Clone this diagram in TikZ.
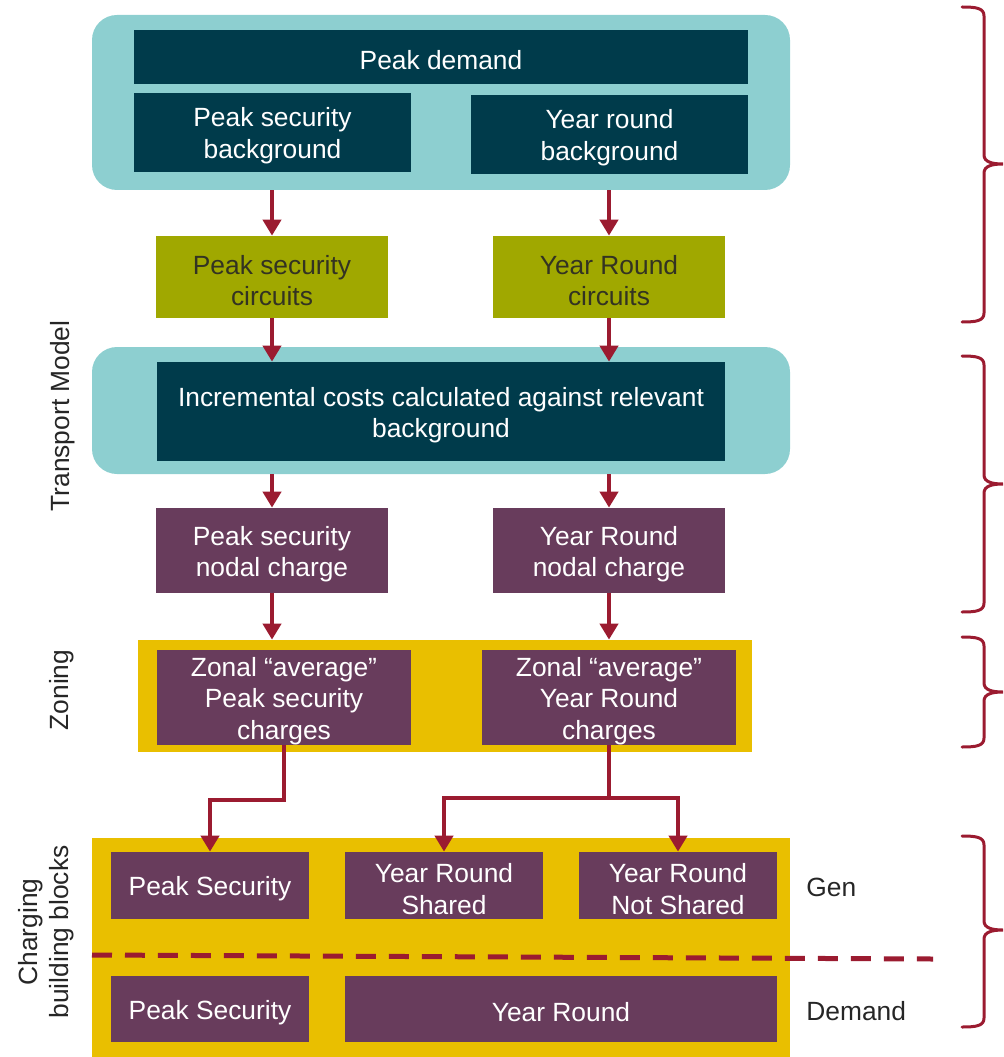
\documentclass[tikz,border=0pt]{standalone}
\usepackage{fontspec}
\setmainfont{Liberation Sans}
\usetikzlibrary{arrows.meta,calc}
\definecolor{lteal}{HTML}{8DCFD0}
\definecolor{dteal}{HTML}{003B4B}
\definecolor{olive}{HTML}{A0A800}
\definecolor{plum}{HTML}{683C5C}
\definecolor{gold}{HTML}{E9BF00}
\definecolor{crim}{HTML}{9B1B30}
\definecolor{otext}{HTML}{333322}
\newcommand\bx[7]{\node[#6, minimum width={(#4-#2)*0.02cm}, minimum height={(#5-#3)*0.02cm}] (#1) at ({(#2+#4)/2},{(#3+#5)/2}) {};
  \node[#6, fill=none, yshift=-0.07cm] (#1t) at (#1.center) {#7};}
\newcommand\sidebrace[3]{\draw[bracestyle] (962,#1) .. controls (976,#1) and (984,#1+1) .. (984,#1+9) -- (984,#3-9) .. controls (984,#3-2) and (992,#3) .. (1003,#3) .. controls (992,#3) and (984,#3+2) .. (984,#3+9) -- (984,#2-9) .. controls (984,#2-1) and (976,#2) .. (962,#2);}
\begin{document}
\begin{tikzpicture}[x=0.02cm,y=-0.02cm,
  every node/.style={font=\fontsize{15}{18}\selectfont, align=center, inner sep=0pt},
  panel/.style={fill=lteal, draw=none, rounded corners=0.5cm},
  ypanel/.style={fill=gold, draw=none},
  dbox/.style={fill=dteal, text=white},
  obox/.style={fill=olive, text=otext},
  pbox/.style={fill=plum, text=white},
  arr/.style={draw=crim, line width=0.08cm, -{Triangle[width=0.36cm,length=0.32cm]}},
  ln/.style={draw=crim, line width=0.08cm},
  bracestyle/.style={draw=crim, line width=0.06cm, line cap=round},
  lbl/.style={text=black!85}
]
\useasboundingbox (0,0) rectangle (1003,1057);
% top panel
\bx{tealA}{92}{15}{790}{190}{panel}{}
\bx{pd}{134}{30}{748}{84}{dbox}{Peak demand}
\bx{psb}{134}{93}{411}{172}{dbox}{Peak security\\background}
\bx{yrb}{471}{95}{748}{174}{dbox}{Year round\\background}
% circuits
\bx{psc}{156}{236}{388}{318}{obox}{Peak security\\circuits}
\bx{yrc}{493}{236}{725}{318}{obox}{Year Round\\circuits}
% second panel
\bx{tealB}{92}{347}{790}{474}{panel}{}
\bx{inc}{157}{362}{725}{461}{dbox}{Incremental costs calculated against relevant\\background}
% nodal
\bx{psn}{156}{508}{388}{593}{pbox}{Peak security\\nodal charge}
\bx{yrn}{493}{508}{725}{593}{pbox}{Year Round\\nodal charge}
% zoning
\bx{zon}{138}{640}{752}{752}{ypanel}{}
\bx{zps}{157}{650}{411}{745}{pbox}{Zonal “average”\\Peak security\\charges}
\bx{zyr}{482}{650}{736}{745}{pbox}{Zonal “average”\\Year Round\\charges}
% charging
\bx{cbb}{92}{838}{790}{1057}{ypanel}{}
\bx{gps}{111}{852}{309}{919}{pbox}{Peak Security}
\bx{gyrs}{345}{852}{543}{919}{pbox}{Year Round\\Shared}
\bx{gyrn}{579}{852}{777}{919}{pbox}{Year Round\\Not Shared}
\bx{dps}{111}{976}{309}{1042}{pbox}{Peak Security}
\bx{dyr}{345}{976}{777}{1042}{pbox}{Year Round}
% dashed line
\coordinate (dl) at (92,955);
\coordinate (dr) at (933,959);
\draw[draw=crim, line width=0.1cm, dash pattern=on 0.4cm off 0.26cm] (dl) -- (dr);
% arrows
\draw[arr] (psc.north |- tealA.south) -- (psc.north);
\draw[arr] (yrc.north |- tealA.south) -- (yrc.north);
\draw[arr] (psc.south) -- (psc.south |- inc.north);
\draw[arr] (yrc.south) -- (yrc.south |- inc.north);
\draw[arr] (psn.north |- tealB.south) -- (psn.north);
\draw[arr] (yrn.north |- tealB.south) -- (yrn.north);
\draw[arr] (psn.south) -- (psn.south |- zon.north);
\draw[arr] (yrn.south) -- (yrn.south |- zon.north);
\coordinate (j1) at (284,800);
\coordinate (j2) at (609,798);
\draw[arr] (zps.south -| j1) -- (j1) -| (gps.north);
\draw[ln] (zyr.south -| j2) -- (j2);
\draw[arr] (j2) -| (gyrs.north);
\draw[arr] (j2) -| (gyrn.north);
% side labels
\node[lbl, rotate=90] (ltm) at (63,416) {Transport Model};
\node[lbl, rotate=90] (lzn) at (62,690) {Zoning};
\node[lbl, rotate=90] (lcb) at (46,932) {Charging\\building blocks};
\node[lbl, anchor=west] (lgen) at (806,887) {Gen};
\node[lbl, anchor=west] (ldem) at (806,1011) {Demand};
% braces
\sidebrace{7}{322}{164}
\sidebrace{356}{612}{484}
\sidebrace{637}{747}{692}
\sidebrace{836}{1027}{930}
\end{tikzpicture}
\end{document}
